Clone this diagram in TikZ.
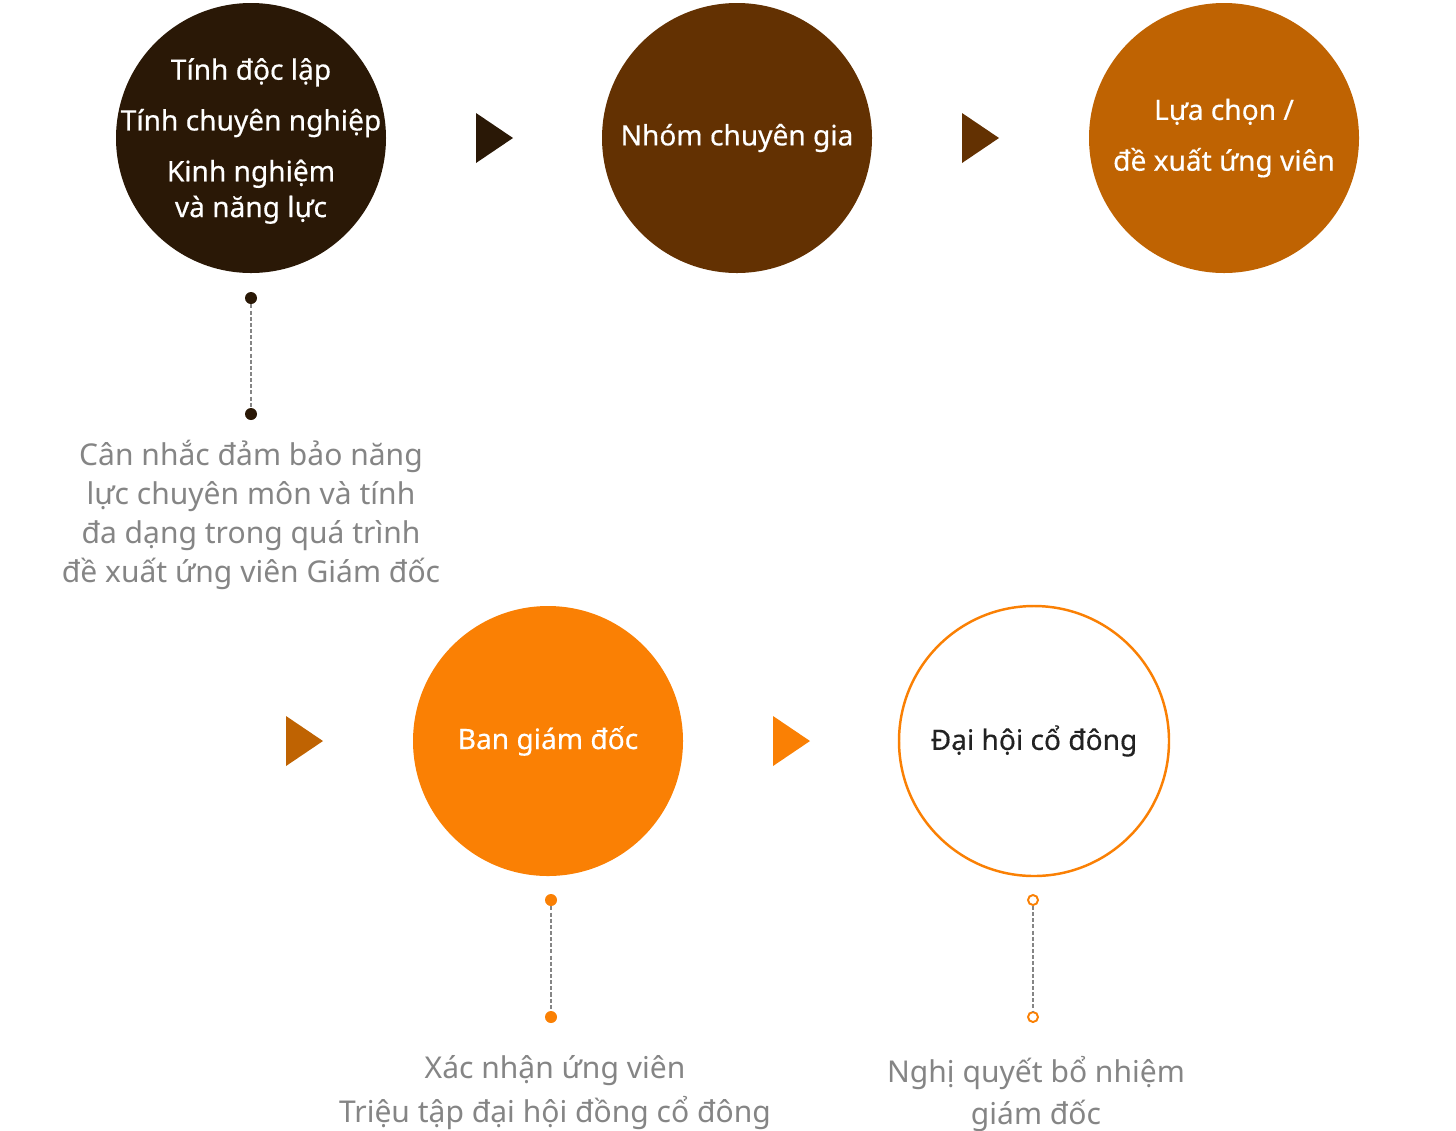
\documentclass[tikz,border=0pt]{standalone}
\usepackage{fontspec}
\setmainfont{Noto Sans}
\usetikzlibrary{positioning}
\definecolor{stage1}{HTML}{2A1806}
\definecolor{stage2}{HTML}{633102}
\definecolor{stage3}{HTML}{BF6302}
\definecolor{stage4}{HTML}{FA8004}
\definecolor{notegray}{HTML}{858585}
\definecolor{darktext}{HTML}{222222}

\begin{document}
\begin{tikzpicture} [x=0.02cm, y=-0.02cm, inner sep=0pt,
    stage/.style={circle,minimum size=270*0.02cm,text=white,align=center,
                  font=\fontsize{16pt}{20.4pt}\selectfont\addfontfeatures{FakeBold=0.4}},
    stage text/.style={align=center,text=white,
                  font=\fontsize{16pt}{20.4pt}\selectfont\addfontfeatures{FakeBold=0.4}},
    note/.style={align=center,text=notegray,
                  font=\fontsize{17.1pt}{22.1pt}\selectfont},
    dot/.style={circle,minimum size=12*0.02cm},
    hollow dot/.style={circle,minimum size=10*0.02cm,draw=stage4,line width=1.1pt,fill=white},
    leader/.style={draw=notegray,line width=1pt,dash pattern=on 2.3pt off 1.2pt}
]
    \useasboundingbox (0,0) rectangle (1456,1130);

    % top row
    \node[stage,fill=stage1,
          label={[stage text,yshift=-3*0.02cm]center:T\'inh độc lập\\[8.5pt]T\'inh chuyên nghiệp\\[8.5pt]Kinh nghiệm\\và năng lực}]
                             (criteria)     at ( 251,138) {};
    \node[stage,fill=stage2] (expert group) at ( 737,138) {Nhóm chuyên gia};
    \node[stage,fill=stage3] (nomination)   at (1224,138) {Lựa chọn /\\[8.5pt]đề xuất ứng viên};

    % bottom row
    \node[stage,fill=stage4] (board)        at ( 548,741) {Ban giám đốc};
    \node[stage,draw=stage4,line width=1.4pt,fill=white,text=darktext]
                             (shareholders) at (1034,741) {Đại hội cổ đông};

    % arrow heads
    \fill[stage1] (476,113) -- ++(37,25) -- ++(-37,25) -- cycle;
    \fill[stage2] (962,113) -- ++(37,25) -- ++(-37,25) -- cycle;
    \fill[stage3] (286,716) -- ++(37,25) -- ++(-37,25) -- cycle;
    \fill[stage4] (773,716) -- ++(37,25) -- ++(-37,25) -- cycle;

    % leaders
    \node[dot,fill=stage1] (criteria top)    at (251,298) {};
    \node[dot,fill=stage1] (criteria bottom) at (251,414) {};
    \draw[leader] (criteria top) -- (criteria bottom);

    \node[dot,fill=stage4] (board top)    at (551,900) {};
    \node[dot,fill=stage4] (board bottom) at (551,1017) {};
    \draw[leader] (board top) -- (board bottom);

    \node[hollow dot] (shareholders top)    at (1033,900) {};
    \node[hollow dot] (shareholders bottom) at (1033,1017) {};
    \draw[leader] (shareholders top) -- (shareholders bottom);

    % notes
    \node[note] (criteria note)     at (251,515)  {Cân nhắc đảm bảo năng\\lực chuyên môn và t\'inh\\đa dạng trong quá trình\\đề xuất ứng viên Giám đốc};
    \node[note,font=\fontsize{17.1pt}{25pt}\selectfont]
                (board note)        at (555,1093) {Xác nhận ứng viên\\Triệu tập đại hội đồng cổ đông};
    \node[note,font=\fontsize{17.1pt}{23.8pt}\selectfont]
                (shareholders note) at (1036,1094) {Nghị quyết bổ nhiệm\\giám đốc};
\end{tikzpicture}
\end{document}
